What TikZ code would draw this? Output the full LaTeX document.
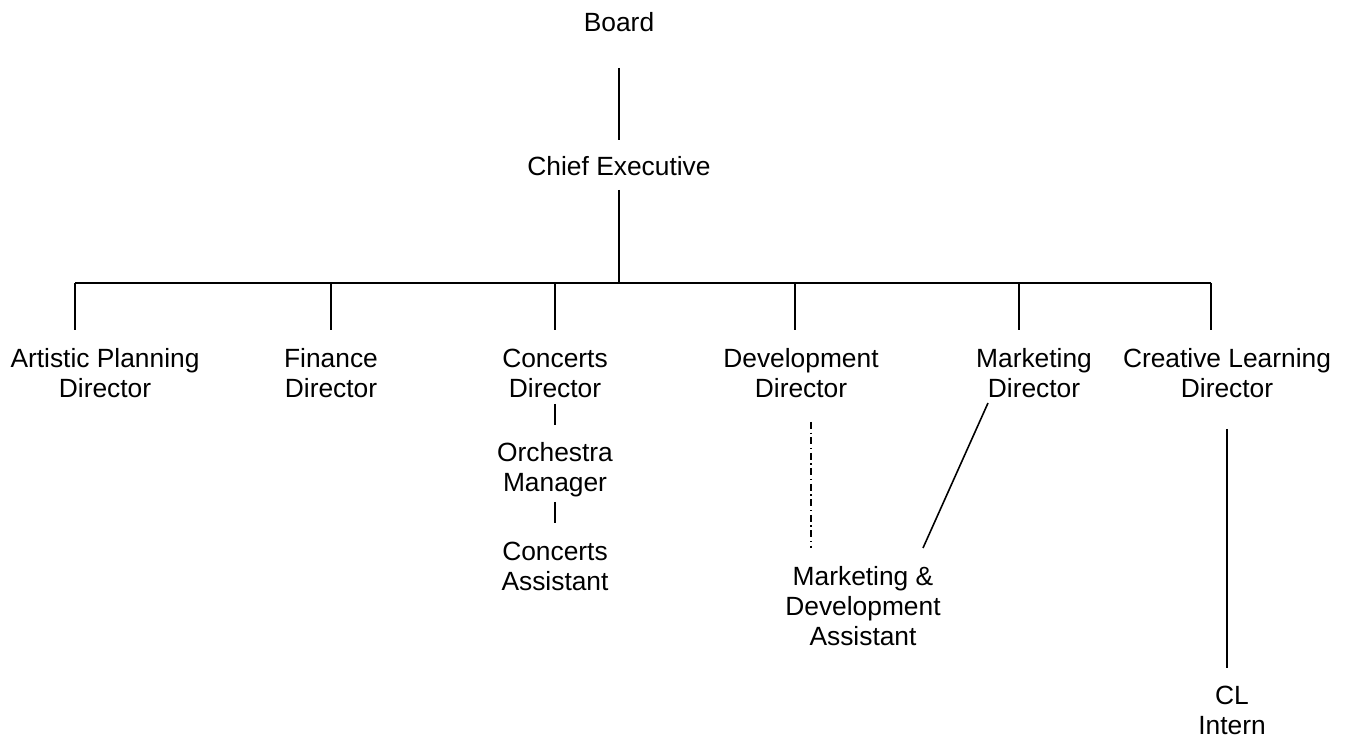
\documentclass[tikz,border=0pt]{standalone}
\usepackage{fontspec}
\setmainfont{Liberation Sans}
\usetikzlibrary{calc}

\begin{document}
\begin{tikzpicture}[x=0.02cm, y=-0.02cm, every node/.style={align=center, inner sep=0pt, font=\fontsize{15}{17}\selectfont}, line width=0.9pt]

\useasboundingbox (0,0) rectangle (1352,739);

% Posizioni dei nodi
\node (board) at (619,22) {Board};
\node (ceo) at (619,166) {Chief Executive};
\node (apd) at (105,373) {Artistic Planning\\Director};
\node (fd) at (331,373) {Finance\\Director};
\node (cd) at (555,373) {Concerts\\Director};
\node (dd) at (801,373) {Development\\Director};
\node (md) at (1034,373) {Marketing\\Director};
\node (cld) at (1227,373) {Creative Learning\\Director};
\node (om) at (555,470) {Orchestra\\Manager};
\node (ca) at (555,566) {Concerts\\Assistant};
\node (mda) at (863,606) {Marketing \&\\Development\\Assistant};
\node (cli) at (1232,710) {CL\\Intern};

\coordinate (bus) at (619,283);
\coordinate (b1) at (75,283);
\coordinate (b2) at (331,283);
\coordinate (b3) at (555,283);
\coordinate (b4) at (795,283);
\coordinate (b5) at (1019,283);
\coordinate (b6) at (1211,283);

% Archi
\draw[shorten <=0.92cm, shorten >=0.52cm] (board.center) -- (ceo.center);
\draw[shorten <=0.48cm] (ceo.center) -- (bus);
\draw (b1) -- (b6);
\draw[shorten >=0.86cm] (b1) -- (b1 |- apd.center);
\draw[shorten >=0.86cm] (b2) -- (b2 |- fd.center);
\draw[shorten >=0.86cm] (b3) -- (b3 |- cd.center);
\draw[shorten >=0.86cm] (b4) -- (b4 |- dd.center);
\draw[shorten >=0.86cm] (b5) -- (b5 |- md.center);
\draw[shorten >=0.86cm] (b6) -- (b6 |- cld.center);
\draw[shorten <=0.62cm, shorten >=0.9cm] (cd.center) -- (om.center);
\draw[shorten <=0.64cm, shorten >=0.86cm] (om.center) -- (ca.center);
\draw[dash pattern=on 4pt off 2pt on 0.8pt off 2pt] ($(dd.center)+(10,49)$) -- ($(mda.center)+(-52,-58)$);
\draw ($(md.center)+(-46,30)$) -- ($(mda.center)+(60,-58)$);
\draw[shorten <=1.12cm, shorten >=0.84cm] (cld.center) -- (cld.center |- cli.center);
\end{tikzpicture}
\end{document}
